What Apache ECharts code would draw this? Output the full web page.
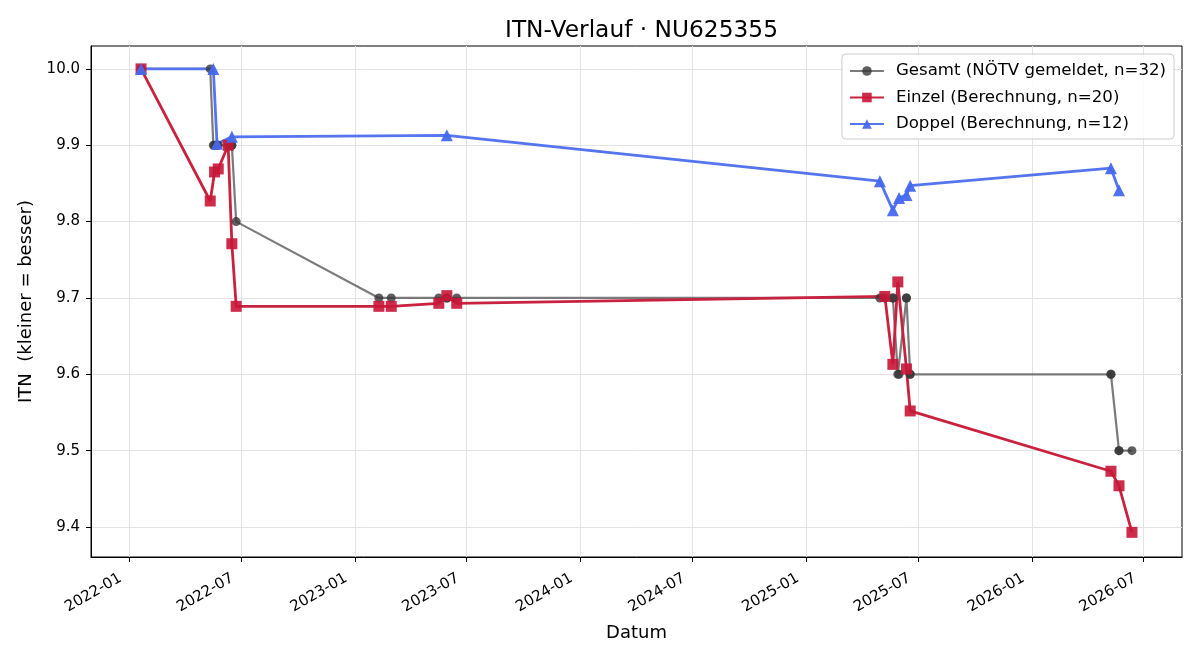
<!DOCTYPE html>
<html>
<head>
<meta charset="utf-8">
<script src="https://cdn.jsdelivr.net/npm/echarts@6/dist/echarts.min.js"></script>
<style>
html,body{margin:0;padding:0;background:#fff;}
#chart{width:1200px;height:660px;}
</style>
</head>
<body>
<div id="chart"></div>
<script>
// ---- data ----
const xTickLabels = ['2022-01','2022-07','2023-01','2023-07','2024-01','2024-07','2025-01','2025-07','2026-01','2026-07'];
const yTickValues = [9.4, 9.5, 9.6, 9.7, 9.8, 9.9, 10.0];

const gesamtDates = ['2022-01-20','2022-01-20','2022-05-12','2022-05-17','2022-05-19','2022-05-23','2022-05-25','2022-06-10','2022-06-16','2022-06-16','2022-06-23',
  '2023-02-09','2023-03-01','2023-05-17','2023-05-30','2023-05-30','2023-06-15',
  '2025-04-30','2025-05-08','2025-05-21','2025-05-21','2025-05-29','2025-05-31','2025-06-12','2025-06-12','2025-06-18','2025-06-18',
  '2026-05-09','2026-05-09','2026-05-22','2026-05-22','2026-06-12'];
const gesamtValues = [10.0,10.0,10.0,9.9,9.9,9.9,9.9,9.9,9.9,9.9,9.8,
  9.7,9.7,9.7,9.7,9.7,9.7,
  9.7,9.7,9.7,9.7,9.6,9.6,9.7,9.7,9.6,9.6,
  9.6,9.6,9.5,9.5,9.5];

const einzelDates = ['2022-01-20','2022-05-12','2022-05-19','2022-05-25','2022-06-10','2022-06-16','2022-06-23',
  '2023-02-09','2023-03-01','2023-05-17','2023-05-30','2023-06-15',
  '2025-05-08','2025-05-21','2025-05-29','2025-06-12','2025-06-18',
  '2026-05-09','2026-05-22','2026-06-12'];
const einzelValues = [10.0,9.827,9.865,9.869,9.900,9.771,9.689,
  9.689,9.689,9.693,9.703,9.693,
  9.702,9.613,9.721,9.607,9.552,
  9.473,9.454,9.393];

const doppelDates = ['2022-01-20','2022-05-17','2022-05-23','2022-06-16','2023-05-30',
  '2025-04-30','2025-05-21','2025-05-31','2025-06-12','2025-06-18',
  '2026-05-09','2026-05-22'];
const doppelValues = [10.0,10.0,9.902,9.911,9.913,
  9.853,9.815,9.831,9.835,9.847,
  9.870,9.841];

// ---- helpers ----
function ts(s){ const p=s.split('-').map(Number); return Date.UTC(p[0], p[1]-1, p[2]||1); }
function pairs(d,v){ return d.map((x,i)=>[ts(x), v[i]]); }
const xTickValues = xTickLabels.map(ts);
function pad(n){return n<10?'0'+n:''+n;}

const chart = echarts.init(document.getElementById('chart'), null, {renderer:'canvas'});
const FONT = 'DejaVu Sans';
chart.setOption({
  animation:false,
  backgroundColor:'#fff',
  textStyle:{fontFamily:FONT},
  title:{text:'ITN-Verlauf · NU625355', left:636.5, textAlign:'center', top:14,
    textStyle:{fontFamily:FONT, fontSize:23.3, fontWeight:'normal', color:'#000'}},
  legend:{
    orient:'vertical', right:26, top:54,
    padding:[7,8,5,7],
    itemWidth:34, itemHeight:12, itemGap:6.5,
    backgroundColor:'rgba(255,255,255,0.85)',
    borderColor:'#cccccc', borderWidth:1, borderRadius:4,
    textStyle:{fontFamily:FONT, fontSize:16.6, color:'#000', lineHeight:20, padding:[0,0,0,7]},
    data:['Gesamt (NÖTV gemeldet, n=32)','Einzel (Berechnung, n=20)','Doppel (Berechnung, n=12)']
  },
  grid:{left:91, right:18, top:46, bottom:103, show:true, borderColor:'#000', borderWidth:1, backgroundColor:'transparent'},
  xAxis:{
    type:'value',
    min: ts('2021-10-31'), max: ts('2026-09-01'),
    name:'Datum', nameLocation:'middle', nameGap:67,
    nameTextStyle:{fontFamily:FONT, fontSize:18, color:'#000'},
    axisLine:{show:true, onZero:false, lineStyle:{color:'#000', width:1}},
    axisTick:{show:true, length:5, lineStyle:{color:'#000'}, customValues:xTickValues},
    axisLabel:{show:true, rotate:30, fontFamily:FONT, fontSize:15, color:'#000', margin:15,
      padding:[0,10,0,0],
      customValues:xTickValues,
      formatter:function(v){ const d=new Date(v); return d.getUTCFullYear()+'-'+pad(d.getUTCMonth()+1);} },
    splitLine:{show:true, lineStyle:{color:'#e3e3e3', width:1}}
  },
  yAxis:{
    type:'value',
    min:9.3607, max:10.030,
    name:'ITN  (kleiner = besser)', nameLocation:'middle', nameGap:56, nameRotate:90,
    nameTextStyle:{fontFamily:FONT, fontSize:18, color:'#000'},
    axisLine:{show:true, onZero:false, lineStyle:{color:'#000', width:1}},
    axisTick:{show:true, length:5, lineStyle:{color:'#000'}, customValues:yTickValues},
    axisLabel:{show:true, fontFamily:FONT, fontSize:15, color:'#000', margin:11,
      customValues:yTickValues,
      formatter:function(v){return Number(v).toFixed(1);} },
    splitLine:{show:true, lineStyle:{color:'#e3e3e3', width:1}}
  },
  series:[
    {name:'Gesamt (NÖTV gemeldet, n=32)', type:'line', data:pairs(gesamtDates,gesamtValues),
      symbol:'circle', symbolSize:9, showAllSymbol:true,
      lineStyle:{color:'rgba(100,100,100,0.85)', width:2.2},
      itemStyle:{color:'rgba(55,55,55,0.8)'}},
    {name:'Einzel (Berechnung, n=20)', type:'line', data:pairs(einzelDates,einzelValues),
      symbol:'rect', symbolSize:11, showAllSymbol:true,
      lineStyle:{color:'#c8223f', width:2.8},
      itemStyle:{color:'rgba(200,22,55,0.9)'}},
    {name:'Doppel (Berechnung, n=12)', type:'line', data:pairs(doppelDates,doppelValues),
      symbol:'triangle', symbolSize:12, showAllSymbol:true,
      lineStyle:{color:'#5575ee', width:2.8},
      itemStyle:{color:'rgba(70,105,238,0.95)'}}
  ]
});
</script>
</body>
</html>
